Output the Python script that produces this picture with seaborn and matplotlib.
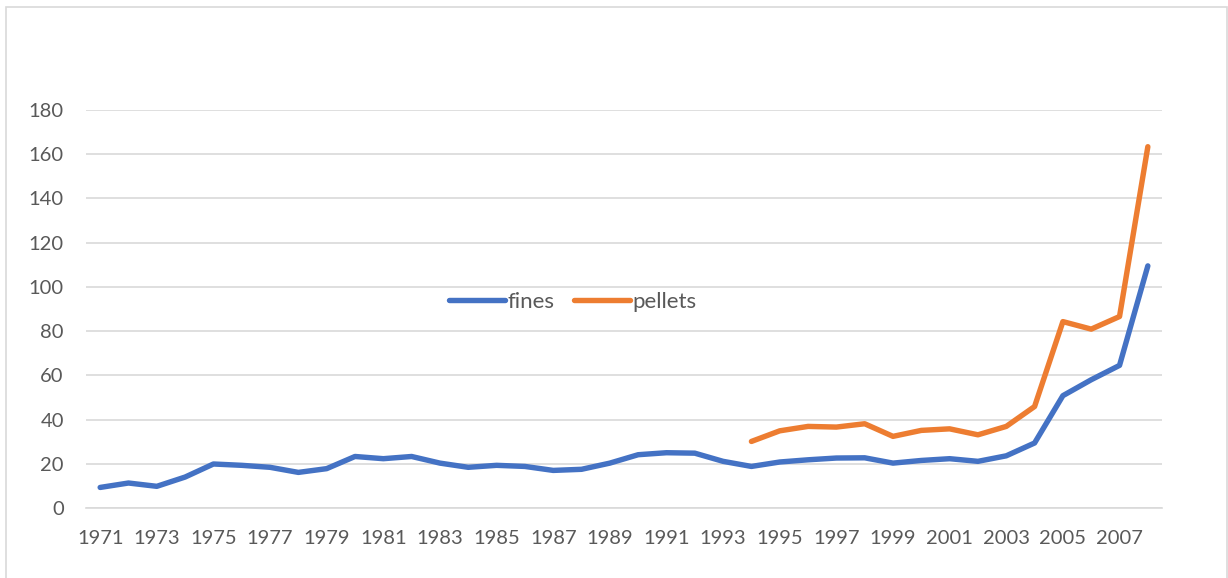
import matplotlib
matplotlib.use("Agg")
import matplotlib.pyplot as plt
from matplotlib.patches import Rectangle
import seaborn as sns
import pandas as pd

# Annual series, 1971-2008 (pellets reported from 1994)
years = list(range(1971, 2009))
fines = [9.3, 11.3, 9.8, 14.0, 19.9, 19.3, 18.4, 16.1, 17.8, 23.3,
         22.3, 23.3, 20.3, 18.4, 19.3, 18.8, 17.0, 17.5, 20.3, 24.1,
         25.0, 24.8, 21.1, 18.8, 20.8, 21.8, 22.6, 22.7, 20.3, 21.5,
         22.3, 21.1, 23.6, 29.4, 50.8, 58.0, 64.5, 109.5]
pellet_years = list(range(1994, 2009))
pellets = [30.1, 34.9, 36.9, 36.6, 38.1, 32.4, 35.1, 35.8, 33.1, 36.9,
           45.9, 84.3, 80.9, 86.6, 163.4]
y_ticks = list(range(0, 181, 20))
x_ticks = list(range(1971, 2008, 2))

sns.set_theme(style="white")
plt.rcParams["font.family"] = ["Lato", "DejaVu Sans"]

df = pd.concat([
    pd.DataFrame({"year": years, "value": fines, "series": "fines"}),
    pd.DataFrame({"year": pellet_years, "value": pellets, "series": "pellets"}),
])

fig = plt.figure(figsize=(12.28, 5.78), dpi=100)
fig.patches.append(Rectangle((6 / 1228, -0.01), 1220.5 / 1228, 1 - 6.5 / 578 + 0.01,
                             transform=fig.transFigure, fill=False,
                             edgecolor="#D9D9D9", linewidth=1.2))
ax = fig.add_axes([86 / 1228, 1 - 508 / 578, (1162 - 86) / 1228, (508 - 110) / 578])

sns.lineplot(data=df, x="year", y="value", hue="series",
             palette={"fines": "#4472C4", "pellets": "#ED7D31"},
             linewidth=3.9, ax=ax, legend=True)
for line in ax.lines:
    line.set_solid_capstyle("round")
    line.set_solid_joinstyle("round")

ax.set_xlim(1970.5, 2008.5)
ax.set_ylim(0, 180)
ax.set_yticks(y_ticks)
ax.set_xticks(x_ticks)
ax.set_xticklabels([str(y) for y in x_ticks])
ax.set_xlabel("")
ax.set_ylabel("")
ax.grid(axis="y", color="#D9D9D9", linewidth=1.2)
ax.grid(axis="x", visible=False)
ax.set_axisbelow(True)
for side in ["top", "right", "left"]:
    ax.spines[side].set_visible(False)
ax.spines["bottom"].set_color("#D9D9D9")
ax.spines["bottom"].set_linewidth(1.2)
ax.tick_params(axis="both", length=0, labelsize=14.5, labelcolor="#595959")
ax.tick_params(axis="y", pad=16)
ax.tick_params(axis="x", pad=16)

handles, labels = ax.get_legend_handles_labels()
leg = ax.legend(handles, labels, loc="center", bbox_to_anchor=(0.4525, 0.518),
                ncol=2, frameon=False, fontsize=16, handlelength=2.5,
                handletextpad=0.12, columnspacing=0.9)
for t in leg.get_texts():
    t.set_color("#595959")
for h in leg.legend_handles:
    h.set_linewidth(3.9)
    h.set_solid_capstyle("round")

fig.savefig("out.png", dpi=100)
